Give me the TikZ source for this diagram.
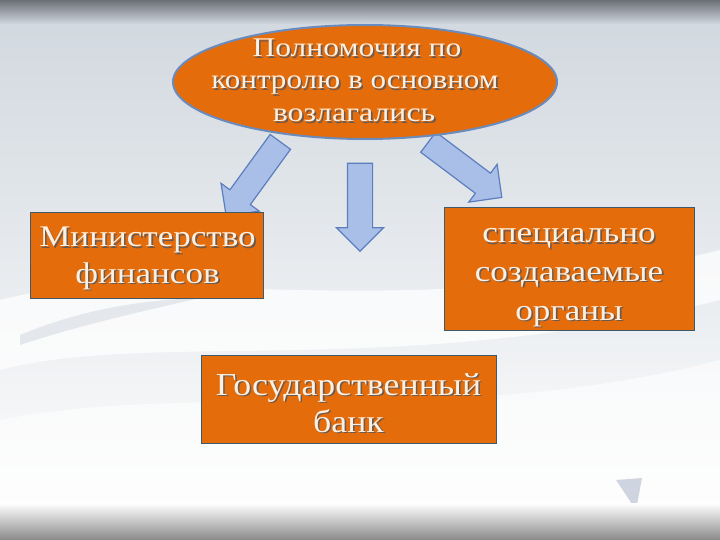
\documentclass[tikz,border=0pt]{standalone}
\usepackage{fontspec}
\setmainfont{Liberation Serif}
\usetikzlibrary{shapes.geometric,shapes.arrows}
\definecolor{orng}{HTML}{E46C0A}
\definecolor{ellline}{HTML}{6A8BBE}
\definecolor{boxline}{HTML}{3E5A6A}
\definecolor{arrfill}{HTML}{A9BFE8}
\definecolor{arrline}{HTML}{5B7EBE}
\definecolor{txtc}{HTML}{FCF0E2}
\definecolor{shc}{HTML}{6B5A50}
\definecolor{bgtop}{HTML}{D0D7DE}
\definecolor{bgmid}{HTML}{E8ECF0}
\definecolor{banddark}{HTML}{6B7077}
\definecolor{bandlow}{HTML}{8A8A8A}
\definecolor{tri}{HTML}{C9D0DD}
\newcommand\sline[2]{\scalebox{#1}[1]{\rlap{\kern1.4pt\raisebox{-1.4pt}{\textcolor{shc}{#2}}}#2}}
\begin{document}
\begin{tikzpicture}[x=1pt,y=-1pt,
  txt/.style={text=txtc, inner sep=0pt, anchor=base},
  box/.style={draw=boxline, line width=0.8pt, fill=orng, inner sep=0pt},
  blk/.style={single arrow, fill=arrfill, draw=arrline, line width=1.2pt,
    inner sep=12pt, single arrow head extend=11pt, minimum width=0pt},
  ftop/.style={font=\fontsize{27}{32}\selectfont},
  fbox/.style={font=\fontsize{30}{36}\selectfont},
  fbank/.style={font=\fontsize{32}{38}\selectfont}
]
\useasboundingbox (0,0) rectangle (720,540);
% background
\shade[top color=bgtop, middle color=bgmid, bottom color=white] (0,0) rectangle (720,540);
\fill[white, opacity=0.75] (0,300) .. controls (150,260) and (400,330) .. (720,250)
  -- (720,300) .. controls (400,380) and (150,330) .. (0,370) -- cycle;
\fill[white, opacity=0.6] (0,420) .. controls (200,380) and (450,430) .. (720,360)
  -- (720,540) -- (0,540) -- cycle;
\fill[bgtop, opacity=0.5] (20,335) .. controls (80,310) and (140,300) .. (200,298)
  .. controls (140,312) and (80,325) .. (20,345) -- cycle;
\fill[tri, opacity=0.9] (616,480) -- (642,478) -- (636,510) -- cycle;
\shade[top color=banddark, bottom color=bgtop] (0,0) rectangle (720,24);
\shade[top color=white, bottom color=bandlow] (0,503) rectangle (720,540);
% arrows
\node[blk, minimum height=92pt, rotate=-126] (aleft) at (257,174) {};
\node[blk, minimum height=88pt, rotate=-90] (amid) at (360,201) {};
\node[blk, minimum height=92pt, rotate=-36.9] (aright) at (460,166) {};
% ellipse
\node[ellipse, fill=orng, draw=ellline, line width=2pt, minimum width=384pt,
  minimum height=114pt, inner sep=0pt] (top) at (365,82) {};
\node[txt, ftop] (t1) at (357,57) {\sline{1.17}{Полномочия по}};
\node[txt, ftop] (t2) at (355,89) {\sline{1.15}{контролю в основном}};
\node[txt, ftop] (t3) at (354,122) {\sline{1.18}{возлагались}};
% boxes
\node[box, minimum width=233pt, minimum height=86pt] (mf) at (146.5,255) {};
\node[txt, fbox] (m1) at (147.5,247) {\sline{1.17}{Министерство}};
\node[txt, fbox] (m2) at (147.5,283) {\sline{1.17}{финансов}};
\node[box, minimum width=250pt, minimum height=123pt] (so) at (569,268.5) {};
\node[txt, fbox] (s1) at (569,243) {\sline{1.17}{специально}};
\node[txt, fbox] (s2) at (569,281) {\sline{1.17}{создаваемые}};
\node[txt, fbox] (s3) at (569,320) {\sline{1.17}{органы}};
\node[box, minimum width=295pt, minimum height=88pt] (gb) at (348.5,399) {};
\node[txt, fbank] (g1) at (348.5,395) {\sline{1.12}{Государственный}};
\node[txt, fbank] (g2) at (348.5,432) {\sline{1.12}{банк}};
\end{tikzpicture}
\end{document}
